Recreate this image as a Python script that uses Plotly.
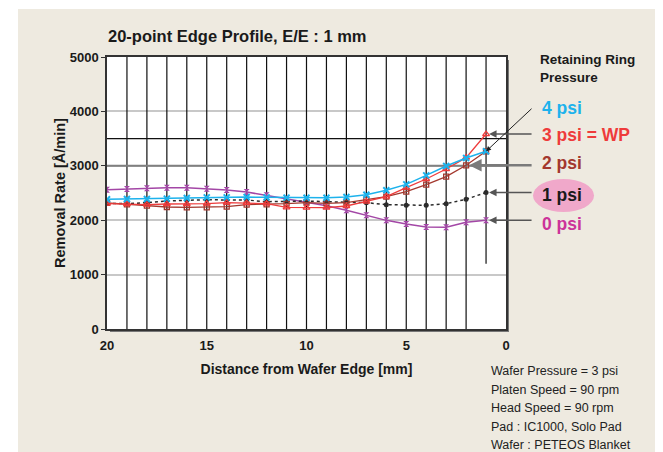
import plotly.graph_objects as go

# distance from wafer edge [mm]
distance = list(range(20, 0, -1))

# removal rate [A/min] per retaining ring pressure
rr_4psi = [2384, 2390, 2390, 2396, 2408, 2420, 2420, 2426, 2420, 2415,
           2414, 2414, 2426, 2469, 2549, 2659, 2824, 2996, 3143, 3266]
rr_3psi = [2304, 2298, 2286, 2298, 2298, 2304, 2322, 2316, 2304, 2237,
           2230, 2230, 2261, 2341, 2433, 2598, 2757, 2941, 3149, 3584]
rr_2psi = [2320, 2290, 2267, 2243, 2237, 2237, 2249, 2286, 2290, 2304,
           2322, 2310, 2322, 2377, 2433, 2524, 2653, 2800, 3009, 3266]
rr_1psi = [2311, 2304, 2322, 2353, 2365, 2377, 2371, 2371, 2340, 2345,
           2353, 2340, 2334, 2322, 2286, 2273, 2273, 2304, 2384, 2510]
rr_0psi = [2561, 2574, 2586, 2598, 2598, 2580, 2555, 2518, 2457, 2396,
           2329, 2267, 2181, 2089, 1997, 1930, 1875, 1869, 1961, 1997]

x_ticks = [20, 15, 10, 5, 0]
y_ticks = [0, 1000, 2000, 3000, 4000, 5000]

conditions = [
    "Wafer Pressure = 3 psi",
    "Platen Speed = 90 rpm",
    "Head Speed = 90 rpm",
    "Pad : IC1000, Solo Pad",
    "Wafer : PETEOS Blanket",
]

FONT = "Liberation Sans, Arial, sans-serif"
BEIGE = "#EEEAE0"

# page body has an 8px margin, so the figure sits at (8, 8)
OFF = 8
W, H = 663 - OFF, 452 - OFF
# plot area in page pixels: x 107..506, y 57..329
L, T = 107 - OFF, 57 - OFF
PW, PH = 399, 272
R, B = W - L - PW, H - T - PH


def px_x(p):
    return (p - OFF - L) / PW


def px_y(p):
    return (T + PH - (p - OFF)) / PH


fig = go.Figure()

fig.add_trace(go.Scatter(x=distance, y=rr_0psi, mode="lines+markers", name="0 psi",
                         line=dict(color="#A347A6", width=1.5),
                         marker=dict(symbol="hourglass", size=6, color="#A347A6")))
fig.add_trace(go.Scatter(x=distance, y=rr_1psi, mode="lines+markers", name="1 psi",
                         line=dict(color="#2B2B2B", width=1.5, dash="dot"),
                         marker=dict(symbol="circle", size=5, color="#2B2B2B")))
fig.add_trace(go.Scatter(x=distance, y=rr_2psi, mode="lines+markers", name="2 psi",
                         line=dict(color="#A3382E", width=1.3),
                         marker=dict(symbol="square-open", size=5, color="#A3382E", line=dict(width=1.3))))
fig.add_trace(go.Scatter(x=distance, y=rr_3psi, mode="lines+markers", name="3 psi = WP",
                         line=dict(color="#EE3B3B", width=1.3),
                         marker=dict(symbol="triangle-up-open", size=6, color="#EE3B3B", line=dict(width=1.3))))
fig.add_trace(go.Scatter(x=distance, y=rr_4psi, mode="lines+markers", name="4 psi",
                         line=dict(color="#1DB2EC", width=1.5),
                         marker=dict(symbol="x-thin", size=6, color="#1DB2EC", line=dict(width=2, color="#1DB2EC"))))

shapes = [
    # beige panel, shadow, white plot area
    dict(type="rect", xref="paper", yref="paper", x0=px_x(18), x1=px_x(700), y0=px_y(500), y1=px_y(9),
         fillcolor=BEIGE, line_width=0, layer="below"),
    dict(type="rect", xref="paper", yref="paper", x0=px_x(110), x1=px_x(509), y0=px_y(332), y1=px_y(60),
         fillcolor="#777777", line_width=0, layer="below"),
    dict(type="rect", xref="paper", yref="paper", x0=0, x1=1, y0=0, y1=1,
         fillcolor="white", line_width=0, layer="below"),
    # highlight behind "1 psi"
    dict(type="circle", xref="paper", yref="paper", x0=px_x(533), x1=px_x(594), y0=px_y(212), y1=px_y(179),
         fillcolor="#F0A8CA", line_width=0, layer="below"),
]
for d in range(2, 20):
    shapes.append(dict(type="line", xref="x", yref="y", x0=d, x1=d, y0=0, y1=5000,
                       line=dict(color="#111111", width=1.2), layer="between"))
shapes.append(dict(type="line", xref="x", yref="y", x0=1, x1=1, y0=1200, y1=5000,
                   line=dict(color="#111111", width=1.2), layer="between"))
shapes.append(dict(type="line", xref="x", yref="y", x0=20, x1=0, y0=3500, y1=3500,
                   line=dict(color="#111111", width=1.2), layer="between"))
shapes.append(dict(type="line", xref="x", yref="y", x0=20, x1=0, y0=3000, y1=3000,
                   line=dict(color="#808080", width=2), layer="between"))

annotations = [
    dict(text="<b>20-point Edge Profile, E/E : 1 mm</b>", xref="paper", yref="paper",
         x=px_x(106), y=px_y(36), xanchor="left", yanchor="middle", showarrow=False,
         font=dict(size=16.5, color="#1a1a1a")),
    dict(text="<b>Retaining Ring<br>Pressure</b>", xref="paper", yref="paper",
         x=px_x(538), y=px_y(50), xanchor="left", yanchor="top", showarrow=False, align="left",
         font=dict(size=13.5, color="#1a1a1a")),
]

labels = [
    ("4 psi", "#1DB2EC", 108),
    ("3 psi = WP", "#EE3B3B", 135),
    ("2 psi", "#A3382E", 163),
    ("1 psi", "#1a1a1a", 195),
    ("0 psi", "#CC3399", 224),
]
for text, color, ypx in labels:
    annotations.append(dict(text="<b>" + text + "</b>", xref="paper", yref="paper",
                            x=px_x(540), y=px_y(ypx), xanchor="left", yanchor="middle",
                            showarrow=False, font=dict(size=17.5, color=color)))

# pointer arrows from labels to curve end points
arrow_style = dict(text="", showarrow=True, arrowhead=2, arrowsize=1, arrowwidth=1.5,
                   arrowcolor="#555555", xref="x", yref="y", standoff=3)
annotations.append(dict(arrow_style, x=distance[-1], y=rr_3psi[-1], ax=47, ay=0))
annotations.append(dict(arrow_style, x=distance[-2], y=rr_2psi[-2], ax=67, ay=0, arrowwidth=2.5,
                        arrowcolor="#7A7A7A"))
annotations.append(dict(arrow_style, x=distance[-1], y=rr_1psi[-1], ax=47, ay=0))
annotations.append(dict(arrow_style, x=distance[-1], y=rr_0psi[-1], ax=47, ay=0))
annotations.append(dict(arrow_style, x=distance[-1], y=rr_4psi[-1], ax=47, ay=-44, arrowwidth=1,
                        arrowcolor="#222222", standoff=0))

for i, line in enumerate(conditions):
    annotations.append(dict(text=line, xref="paper", yref="paper", x=px_x(489), y=px_y(371 + i * 18.5),
                            xanchor="left", yanchor="middle", showarrow=False,
                            font=dict(size=12.5, color="#222222")))

fig.update_layout(
    width=W, height=H,
    margin=dict(l=L, r=R, t=T, b=B, pad=0),
    paper_bgcolor="white",
    plot_bgcolor="white",
    font=dict(family=FONT, color="#1a1a1a"),
    showlegend=False,
    shapes=shapes,
    annotations=annotations,
    xaxis=dict(
        range=[20, 0], tickvals=x_ticks, ticktext=["<b>%d</b>" % v for v in x_ticks],
        showgrid=False, zeroline=False, showline=True, mirror=True,
        linecolor="#333333", linewidth=1.5, ticks="", tickfont=dict(size=13),
        ticklabelstandoff=4,
        title=dict(text="<b>Distance from Wafer Edge [mm]</b>", font=dict(size=14), standoff=12),
    ),
    yaxis=dict(
        range=[0, 5000], tickvals=y_ticks, ticktext=["<b>%d</b>" % v for v in y_ticks],
        showgrid=True, gridcolor="#C8C8C8", gridwidth=1.5, dtick=500, zeroline=False,
        showline=True, mirror=True, linecolor="#333333", linewidth=1.5,
        ticks="outside", ticklen=4, tickcolor="#333333", tickfont=dict(size=13),
        title=dict(text="<b>Removal Rate [Å/min]</b>", font=dict(size=14.5), standoff=1),
    ),
)

fig.write_html("out.html")
